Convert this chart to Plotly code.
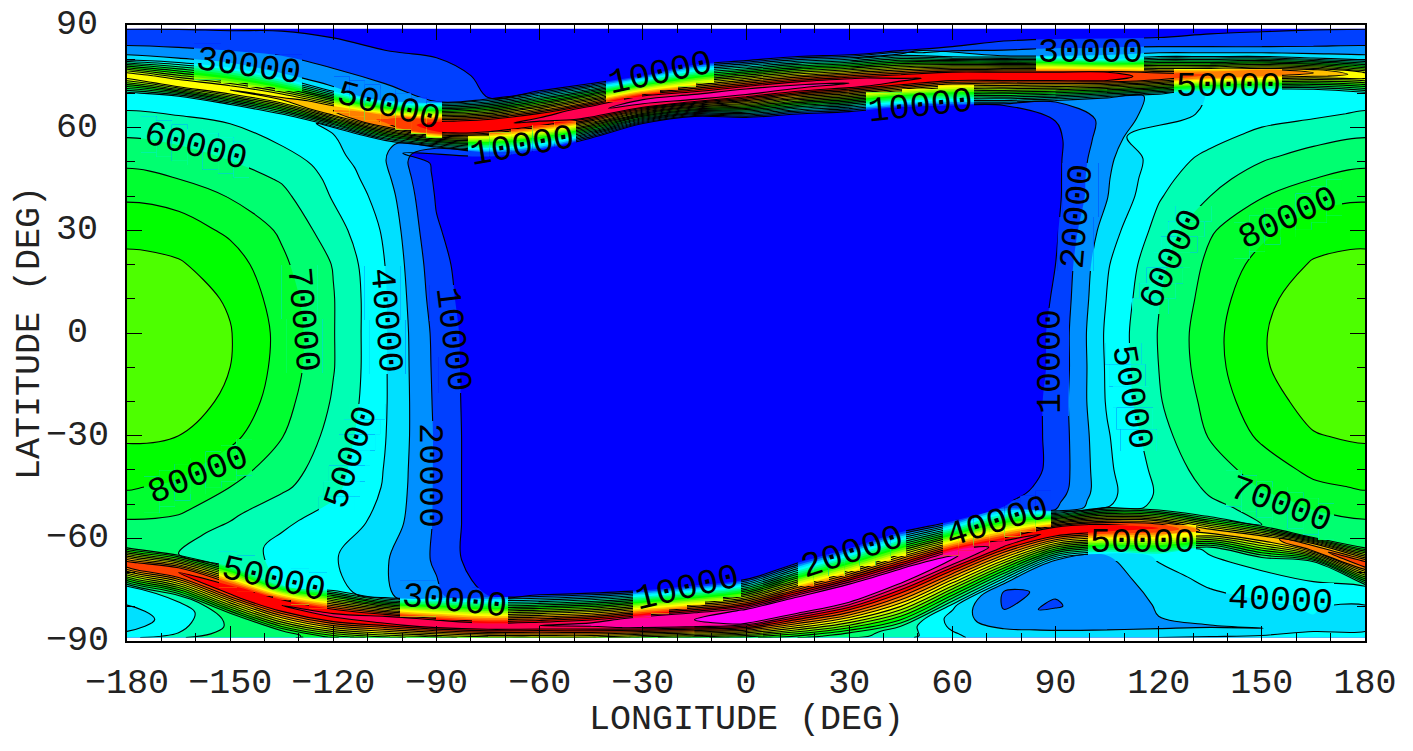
import math
import plotly.graph_objects as go

lons = list(range(-180, 181, 15))
# latitude of the top edge, crest and lower edge of the two steep belts, per longitude
north_top = [80,79.5,78,75,71,68,67.6,68.8,70.8,72.9,75.2,78.4,79.6,80.8,81.3,82.5,81,81,81,80.2,81,81,81,80.5,80]
north_ridge = [75.2,73,71,68.5,65,62,60.3,60.6,62.4,64.7,67.6,69,70.5,72,73,74,75,75,75,75,75,75.5,76,76,75.2]
north_bot = [70,69,66.5,63.6,60,56,54,52.8,53.5,57,61.2,63.3,63,64,64.7,66,66.5,66.5,67.5,68.5,69.5,70.5,71,71,70]
south_top = [-62.4,-64.5,-68,-73.5,-75,-77,-77,-76.7,-76.5,-76,-75.2,-73.8,-72,-67.2,-62.9,-58.2,-55,-50.7,-51.6,-50.5,-51.5,-53.6,-56,-59.5,-62.4]
south_ridge = [-67.6,-70,-75,-79.6,-82.5,-83.8,-85,-85.7,-85.5,-85.2,-84.5,-83.8,-82.8,-79.5,-76,-71,-65.6,-61.5,-58,-57,-57,-58,-60,-62.7,-67.6]
south_bot = [-74,-77,-82,-87.5,-88.7,-88.8,-88.8,-88.8,-88.8,-88.8,-88.8,-88.8,-88.8,-88.8,-88,-86,-80,-74,-66.5,-65,-65,-63,-66,-67,-74]
north_half = [1,1,1,1,1.2,1.5,1.7,1.7,1.5,1.5,1.5,1.2,1.2,1.2,1.2,1.2,1.2,1.2,1.2,1.2,1,0.8,0.8,0.8,1]
south_half = [1,1.2,1.5,1.5,1.5,1.2,1,0.8,0.8,1,1.5,1.8,2,2.2,2.5,2,1.5,1.2,1.2,1.2,1,0.8,0.8,0.8,1]
mid_lats = [45,40,30,20,10,0,-10,-20,-30,-40,-45]

# values in thousands: crest and shoulders of the two belts, per longitude
north_peak = [125,127,130,132,140,152,165,168,172,178,184,186,186,184,180,172,167,165,165,165,155,150,150,140,125]
north_shoulder = [119,121,124,126,134,146,159,162,166,172,174,176,177,174,172,166,161,160,160,160,150,144,144,134,119]
south_peak = [155,160,165,170,172,175,178,178,180,183,188,190,196,198,198,196,192,175,168,165,160,135,135,148,155]
south_shoulder = [149,154,159,164,166,169,172,172,174,177,182,185,191,193,192,191,186,168,162,159,154,129,129,142,149]

# the other values in thousands, one list per longitude, north to south
c_m180 = [9.5,16,22,36,44,51.5,59.5,67, 73,78.5,87,92.5,96,98,97.5,95,91.5,85,81, 75,67,62,50, 42,33,40,45]
c_m165 = [9.5,15.5,21.5,33,45,50.5,57.5,64.5, 70,76,85,91,94,95.5,95,93.5,90,82.5,78, 72,64,60,55, 44,46,50,58]
c_m150 = [9,14.5,21.5,33,44,50,56,60, 65,69.5,78,85,89,90.5,90,88.5,83,74,70, 62,55.5,55,68, 63,62,66,70]
c_m135 = [9,15,22,32,42,45,50.5,55.5, 59,62.5,68.5,72,75,77,76.5,74,70.5,65,62, 52,47,50,62, 62,63,63,64]
c_m120 = [7,13.5,20.5,32,39,41,43,46, 47.5,49.5,54.5,59.5,60.5,60.5,60.5,59,56.5,54,52.5, 46,41,45,85, 84,82,80,78]
c_m105 = [5,10.5,16.5,28,33,31.5,30.5,31.5, 33,35.5,38.5,40,41,41,41,41,40.5,39.5,39, 36.5,31,32,100, 99,98,96,95]
c_m90 = [3,9,14,20,20,9.5,7,7.5, 8,9,11,13.5,15,17,17.5,18,18.5,18.5,18.5, 18.5,18.5,22,110, 109,107,106,105]
c_m75 = [1,3.5,8,10,20,4,1,1, 1,1,1,1,1,1,1,1,1,1,1, 1,1,10,120, 119,118,116,115]
c_m60 = [1,1,2,10,10,3,1,1, 1,1,1,1,1,1,1,1,1,1,1, 1,1,10,122, 121,120,120,120]
c_m45 = [1,1,2,10,10,2,1,1, 1,1,1,1,1,1,1,1,1,1,1, 1,1,10,122, 121,120,120,120]
c_m30 = [1,1,2,10,10,1.5,1,1, 1,1,1,1,1,1,1,1,1,1,1, 1,1,10,110, 109,107,106,105]
c_m15 = [1,1,3,10,10,1.5,1,1, 1,1,1,1,1,1,1,1,1,1,1, 1,1,10,100, 99,97,96,95]
c_0 = [1,2,4,10,10,1.5,1,1, 1,1,1,1,1,1,1,1,1,1,1, 1,1,10,90, 89,87,86,85]
c_15 = [1,2,5,10,10,1.5,1,1, 1,1,1,1,1,1,1,1,1,1,1, 1,1,10,75, 74,72,71,70]
c_30 = [2,3,6,10,10,1.5,1,1, 1,1,1,1,1,1,1,1,1,1,1, 1,1,10,65, 64,63,62,60]
c_45 = [3,4,7,10,10,2,1,1, 1,1,1,1,1,1,1,1,1,1,1, 1,1,10,57, 56,56,55,55]
c_60 = [3,5,10,32,10,2,1,1, 1,1,1,1,1,1,1,1,1,1,1, 1,1,10,42, 37,38,41,42]
c_75 = [4,7.5,14,30,10,2,1,1, 1,1,1,1,1,1,1,1,1,1,5, 6,8,10,20.5, 19,21,32,37]
c_90 = [4.5,8.5,18,30,20,10,7.5,7.5, 7.5,7.5,8.5,10,11,12,12,13,13,13,14, 15.5,18,20,28, 21,19.5,28,37]
c_105 = [4,10,21,35,25,23,25,27.5, 29,29.5,35,39,40.5,42,41.5,41,39,38,37, 37,37.5,38,30, 25,23,28,37]
c_120 = [4,10,20,35,32,35,41,45.5, 47,49,53.5,57.5,59.5,60.5,60,59,56,53,51.5, 51.5,52.5,55,42, 35,31,29,40]
c_135 = [7,12,20,35,41,42,47,52, 56.5,60,69,72.5,74.5,76.5,76,73.5,70.5,65,62, 60,57,58,52, 44,36,29.5,41]
c_150 = [8,13.5,20,35,44,46,52,58.5, 65,69.5,77.5,83.5,88,89.3,89,86.5,82,74.5,70.5, 66,63,60,54, 46,38,29.8,43]
c_165 = [9,15,21,36,45,47.5,56,63.5, 70,76,85,91,94,95.5,95,93,89.5,82.5,78, 72.5,66,62,56, 49,41,38,44]
c_180 = [9.5,16,22,36,44,51.5,59.5,67, 73,78.5,87,92.5,96,98,97.5,95,91.5,85,81, 75,67,62,50, 42,33,40,45]

columns = [c_m180,c_m165,c_m150,c_m135,c_m120,c_m105,c_m90,c_m75,c_m60,c_m45,c_m30,c_m15,c_0,
           c_15,c_30,c_45,c_60,c_75,c_90,c_105,c_120,c_135,c_150,c_165,c_180]

band_colors = ["#0000ff","#0040ff","#0090ff","#00e0ff","#00ffff","#00ffb4","#00ff70","#00ff30",
               "#00ff00","#4dff00","#90ff00","#d0ff00","#ffff00","#ffc000","#ff8000","#ff4000",
               "#ff0000","#ff0050","#ff00a0","#ff00ff"]

label_text = ["30000","50000","10000","10000","10000","30000","50000","60000","80000","60000",
              "70000","40000","10000","20000","10000","50000","20000","50000","80000","70000",
              "50000","30000","10000","20000","40000","50000","40000"]
label_x = [248,388,660,522,920,1090,1228,195,1288,1172,302,385,452,1078,1051,1131,429,352,198,1280,
           273,454,687,852,997,1142,1280]
label_y = [67,107,74,147,107,53,87,147,219,260,319,320,339,217,362,397,475,458,476,505,
           580,602,589,553,523,543,601]
label_rot = [8,15,-12,-10,-6,0,0,15,-25,-65,85,85,83,-85,-90,80,90,-72,-22,20,
             13,6,-13,-18,-17,0,3]
y_ticks = [90,60,30,0,-30,-60,-90]
x_ticks = list(range(-180, 181, 30))
title_text = "0/  0100 2/     1000 //  /// //  1/0"

FONT = "Liberation Mono"
INK = "#222222"
L, R, T, B = 127, 1365, 25, 641

def column_lats(j):
    nt, nr, nb, nh = north_top[j], north_ridge[j], north_bot[j], north_half[j]
    st, sr, sb, sh = south_top[j], south_ridge[j], south_bot[j], south_half[j]
    rows = [89, 89 + (nt - 89) / 3, 89 + 2 * (nt - 89) / 3, nt, nr + nh, nr, nr - nh, nb]
    rows += [nb + f * (45 - nb) for f in (0.25, 0.5, 0.75)]
    rows += mid_lats
    rows += [-45 + (st + 45) / 3, -45 + 2 * (st + 45) / 3, st, sr + sh, sr, sr - sh, sb]
    rows += [sb + f * (-89 - sb) for f in (0.3, 0.6, 0.88)]
    rows += [-89]
    return rows

def column_values(j):
    c = columns[j]
    return (c[:4] + [north_shoulder[j], north_peak[j], north_shoulder[j]] + c[4:22]
            + [south_shoulder[j], south_peak[j], south_shoulder[j]] + c[22:])

# the map is periodic: one wrapped column on each side lies outside the axis range
wrap = [len(lons) - 2] + list(range(len(lons))) + [1]
grid_lons = [-195] + lons + [195]
col_lats = [column_lats(j) for j in wrap]
col_vals = [column_values(j) for j in wrap]
nrows = len(col_lats[0])
ncols = len(grid_lons)
grid_x = [[grid_lons[j] for j in range(ncols)] for _ in range(nrows)]
grid_y = [[col_lats[j][i] for j in range(ncols)] for i in range(nrows)]
z = [[col_vals[j][i] * 1000 for j in range(ncols)] for i in range(nrows)]
a_idx = list(range(ncols))
b_idx = list(range(nrows))

n = len(band_colors)
scale = []
for i, col in enumerate(band_colors):
    scale += [[i / n, col], [(i + 1) / n, col]]

hidden = dict(showgrid=False, minorgridcount=0, showticklabels="none", showline=False, startline=False,
              endline=False, tickmode="array", tickvals=[], title=dict(text=""))

fig = go.Figure()

def contour(name, xa, ya, lines):
    fig.add_trace(go.Carpet(a=a_idx, b=b_idx, x=grid_x, y=grid_y, carpet=name, xaxis=xa, yaxis=ya,
                            aaxis=dict(smoothing=1, **hidden), baxis=dict(smoothing=0, **hidden)))
    fig.add_trace(go.Contourcarpet(a=a_idx, b=b_idx, z=z, carpet=name, xaxis=xa, yaxis=ya, colorscale=scale,
                                   showscale=False, autocontour=False,
                                   contours=dict(start=10000, end=190000, size=10000, coloring="fill", showlines=lines),
                                   line=dict(color="black", width=1.1 if lines else 0, smoothing=1)))

contour("main", "x", "y", True)

to_lon = lambda px: (px - L) / (R - L) * 360 - 180
to_lat = lambda py: 90 - (py - T) / (B - T) * 180
layout_axes = {}
idx = 2

def add_patch(x0, x1, y0, y1):
    global idx
    xn, yn = f"x{idx}", f"y{idx}"
    contour(f"c{idx}", xn, yn, False)
    layout_axes[f"xaxis{idx}"] = dict(domain=[(x0 - L) / (R - L), (x1 - L) / (R - L)],
                                      range=[to_lon(x0), to_lon(x1)], visible=False, anchor=yn, fixedrange=True)
    layout_axes[f"yaxis{idx}"] = dict(domain=[(B - y1) / (B - T), (B - y0) / (B - T)],
                                      range=[to_lat(y1), to_lat(y0)], visible=False, anchor=xn, fixedrange=True)
    idx += 1

PW, PH = 108, 36
for cx, cy, rot in zip(label_x, label_y, label_rot):
    a = math.radians(rot)
    if abs(rot) < 45:
        shear = math.tan(a)
        k = max(1, min(7, round(abs(shear) * PW / 4)))
        for i in range(k):
            x0 = cx - PW / 2 + PW * i / k
            x1 = x0 + PW / k
            yc = cy + shear * ((x0 + x1) / 2 - cx)
            add_patch(x0, x1, yc - PH / 2, yc + PH / 2)
    else:
        shear = 1 / math.tan(a)
        k = max(1, min(7, round(abs(shear) * PW / 4)))
        for i in range(k):
            y0 = cy - PW / 2 + PW * i / k
            y1 = y0 + PW / k
            xc = cx + shear * ((y0 + y1) / 2 - cy)
            add_patch(xc - PH / 2, xc + PH / 2, y0, y1)

anns = [dict(x=to_lon(x), y=to_lat(y), xref="x", yref="y", text=t, textangle=r, showarrow=False,
             font=dict(family=FONT, size=35, color="black"))
        for t, x, y, r in zip(label_text, label_x, label_y, label_rot)]
for v in y_ticks:
    anns.append(dict(x=(77 - L) / (R - L), y=v, xref="paper", yref="y", xanchor="center", yanchor="middle",
                     text=str(v).replace("-", "\u2212"), showarrow=False, font=dict(family=FONT, size=35, color=INK)))
anns.append(dict(x=0.5, y=(B - 720) / (B - T), xref="paper", yref="paper", yanchor="middle", text="LONGITUDE (DEG)",
                 showarrow=False, font=dict(family=FONT, size=35, color=INK)))
anns.append(dict(x=(30 - L) / (R - L), y=0.5, xref="paper", yref="paper", xanchor="center", yanchor="middle", textangle=-90,
                 text="LATITUDE (DEG)", showarrow=False, font=dict(family=FONT, size=35, color=INK)))
anns.append(dict(x=0.5, y=(B - 11) / (B - T), xref="paper", yref="paper", yanchor="bottom", text=title_text,
                 showarrow=False, font=dict(family=FONT, size=35, color=INK)))

axis_common = dict(ticks="inside", ticklen=15, tickwidth=1, tickcolor="black", showgrid=False, zeroline=False,
                   showline=True, linecolor="black", linewidth=1.5, mirror="ticks",
                   tickfont=dict(family=FONT, size=35, color=INK),
                   minor=dict(ticks="inside", ticklen=8, tickwidth=1, tickcolor="black", showgrid=False))
fig.update_layout(
    width=1413, height=751, margin=dict(l=L, r=1413 - R, t=T, b=751 - B, autoexpand=False),
    paper_bgcolor="white", plot_bgcolor="rgba(0,0,0,0)", showlegend=False, hovermode=False,
    xaxis=dict(range=[-180, 180], tickvals=x_ticks, ticklabelstandoff=8, **axis_common),
    yaxis=dict(range=[-90, 90], tickvals=y_ticks, showticklabels=False, **axis_common),
    annotations=anns, **layout_axes,
)
fig.layout.xaxis.minor.tickvals = list(range(-180, 181, 10))
fig.layout.yaxis.minor.tickvals = list(range(-90, 91, 10))
fig.write_html("out.html", config=dict(displayModeBar=False), post_script="document.body.style.margin='0';")
